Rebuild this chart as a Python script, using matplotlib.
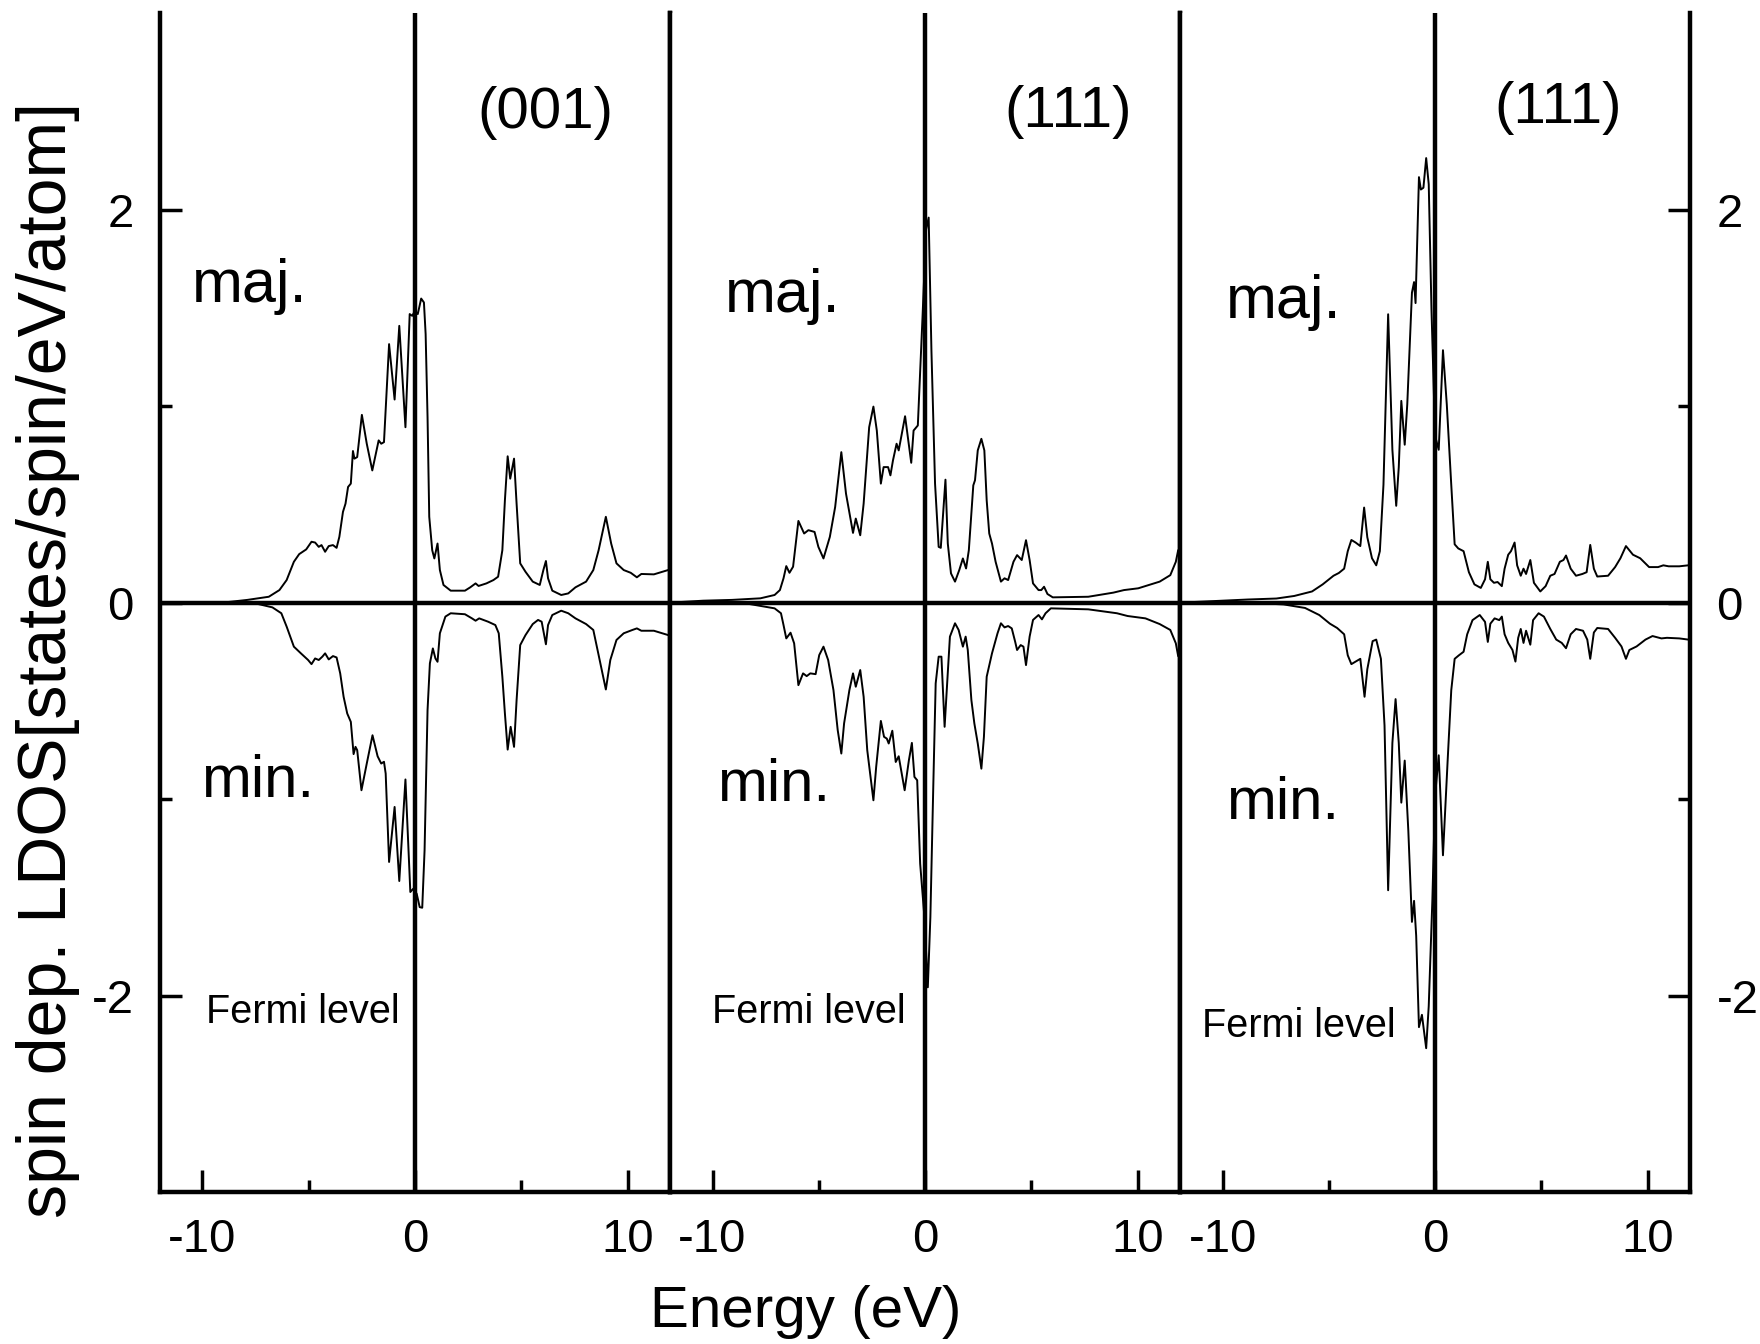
import numpy as np
import matplotlib.pyplot as plt
from matplotlib.ticker import MultipleLocator, FixedLocator

plt.rcParams['font.family'] = ['Liberation Sans', 'DejaVu Sans']
plt.rcParams['axes.unicode_minus'] = False

# (energy [eV], LDOS) pairs
maj_001 = [(-12.0, 0.0), (-9.06, 0.0), (-7.89, 0.014), (-6.88, 0.03), (-6.38, 0.064), (-6.04, 0.115),
           (-5.70, 0.208), (-5.45, 0.247), (-5.12, 0.271), (-4.87, 0.31), (-4.70, 0.306), (-4.53, 0.284),
           (-4.40, 0.293), (-4.23, 0.259), (-4.06, 0.288), (-3.86, 0.293), (-3.69, 0.279), (-3.56, 0.335),
           (-3.39, 0.462), (-3.27, 0.504), (-3.15, 0.589), (-3.02, 0.606), (-2.92, 0.772), (-2.85, 0.733),
           (-2.72, 0.741), (-2.50, 0.956), (-2.27, 0.809), (-2.01, 0.673), (-1.71, 0.826), (-1.59, 0.809),
           (-1.46, 0.817), (-1.22, 1.316), (-0.96, 1.034), (-0.74, 1.409), (-0.45, 0.893), (-0.25, 1.469),
           (-0.13, 1.46), (0.0, 1.486), (0.13, 1.469), (0.29, 1.548), (0.42, 1.528), (0.50, 1.367),
           (0.59, 0.944), (0.67, 0.437), (0.81, 0.267), (0.91, 0.225), (1.06, 0.301), (1.17, 0.166),
           (1.34, 0.09), (1.68, 0.061), (2.35, 0.061), (2.60, 0.078), (2.85, 0.098), (2.99, 0.085),
           (3.36, 0.098), (3.69, 0.115), (3.91, 0.132), (4.11, 0.267), (4.23, 0.521), (4.36, 0.745),
           (4.48, 0.631), (4.66, 0.733), (4.78, 0.504), (4.95, 0.2), (5.20, 0.157), (5.54, 0.107),
           (5.87, 0.09), (6.04, 0.166), (6.16, 0.212), (6.26, 0.124), (6.46, 0.061), (6.88, 0.039),
           (7.21, 0.047), (7.55, 0.078), (8.05, 0.107), (8.39, 0.166), (8.64, 0.267), (8.98, 0.437),
           (9.23, 0.301), (9.48, 0.2), (9.82, 0.166), (10.15, 0.152), (10.44, 0.129), (10.65, 0.146),
           (11.24, 0.144), (11.91, 0.166), (12.0, 0.168)]

min_001 = [(-12.0, 0.0), (-9.06, 0.0), (-7.38, -0.007), (-6.71, -0.024), (-6.29, -0.054), (-6.04, -0.122),
           (-5.70, -0.224), (-5.37, -0.258), (-5.03, -0.292), (-4.87, -0.313), (-4.70, -0.284), (-4.53, -0.292),
           (-4.36, -0.275), (-4.23, -0.258), (-4.06, -0.289), (-3.86, -0.272), (-3.69, -0.279), (-3.52, -0.36),
           (-3.36, -0.479), (-3.19, -0.564), (-3.02, -0.607), (-2.89, -0.771), (-2.80, -0.734), (-2.72, -0.751),
           (-2.52, -0.955), (-2.27, -0.819), (-2.00, -0.675), (-1.76, -0.782), (-1.59, -0.819), (-1.46, -0.81),
           (-1.38, -0.87), (-1.22, -1.32), (-0.96, -1.04), (-0.74, -1.417), (-0.45, -0.9), (-0.22, -1.473),
           (-0.08, -1.456), (0.08, -1.482), (0.22, -1.55), (0.34, -1.553), (0.45, -1.261), (0.59, -0.547),
           (0.70, -0.309), (0.84, -0.233), (0.96, -0.284), (1.06, -0.301), (1.17, -0.156), (1.43, -0.071),
           (1.68, -0.054), (2.35, -0.059), (2.68, -0.08), (2.85, -0.092), (3.02, -0.08), (3.44, -0.097),
           (3.78, -0.114), (3.94, -0.156), (4.11, -0.377), (4.23, -0.564), (4.36, -0.748), (4.50, -0.632),
           (4.66, -0.734), (4.78, -0.496), (4.95, -0.216), (5.20, -0.165), (5.54, -0.109), (5.79, -0.088),
           (5.96, -0.097), (6.16, -0.212), (6.26, -0.114), (6.46, -0.063), (6.88, -0.041), (7.21, -0.054),
           (7.55, -0.08), (8.05, -0.109), (8.39, -0.139), (8.64, -0.267), (8.98, -0.442), (9.19, -0.292),
           (9.48, -0.19), (9.82, -0.156), (10.23, -0.139), (10.44, -0.131), (10.65, -0.143), (11.24, -0.143),
           (11.91, -0.165), (12.0, -0.167)]

maj_111a = [(-12.0, 0.0), (-10.44, 0.01), (-9.09, 0.014), (-7.75, 0.022), (-7.08, 0.039), (-6.83, 0.064),
            (-6.66, 0.124), (-6.53, 0.186), (-6.38, 0.152), (-6.21, 0.183), (-5.96, 0.416), (-5.69, 0.352),
            (-5.49, 0.369), (-5.20, 0.36), (-5.02, 0.284), (-4.78, 0.225), (-4.48, 0.335), (-4.23, 0.487),
            (-3.94, 0.766), (-3.72, 0.555), (-3.39, 0.355), (-3.26, 0.428), (-3.05, 0.343), (-2.89, 0.504),
            (-2.63, 0.893), (-2.43, 0.998), (-2.27, 0.876), (-2.08, 0.606), (-1.95, 0.69), (-1.74, 0.69),
            (-1.63, 0.648), (-1.51, 0.724), (-1.34, 0.809), (-1.24, 0.775), (-0.94, 0.949), (-0.65, 0.712),
            (-0.54, 0.876), (-0.34, 0.902), (-0.12, 1.452), (0.05, 1.90), (0.17, 1.96), (0.30, 1.283),
            (0.47, 0.606), (0.64, 0.284), (0.74, 0.279), (0.84, 0.437), (0.96, 0.626), (1.07, 0.301),
            (1.22, 0.149), (1.41, 0.107), (1.61, 0.166), (1.78, 0.225), (1.93, 0.174), (2.06, 0.267),
            (2.27, 0.597), (2.35, 0.623), (2.48, 0.775), (2.65, 0.834), (2.79, 0.775), (2.90, 0.521),
            (3.02, 0.352), (3.15, 0.301), (3.32, 0.208), (3.57, 0.107), (3.74, 0.124), (3.91, 0.115),
            (4.16, 0.208), (4.33, 0.242), (4.55, 0.217), (4.75, 0.318), (4.92, 0.217), (5.08, 0.098),
            (5.34, 0.064), (5.47, 0.064), (5.60, 0.081), (5.76, 0.044), (6.01, 0.027), (7.68, 0.03),
            (8.86, 0.051), (9.36, 0.064), (10.03, 0.073), (11.04, 0.107), (11.54, 0.14), (11.80, 0.208),
            (11.91, 0.267), (12.0, 0.27)]

min_111a = [(-12.0, 0.0), (-10.44, 0.0), (-8.26, -0.007), (-7.08, -0.029), (-6.78, -0.054), (-6.66, -0.114),
            (-6.53, -0.182), (-6.33, -0.153), (-6.16, -0.207), (-5.96, -0.42), (-5.74, -0.36), (-5.57, -0.374),
            (-5.40, -0.36), (-5.15, -0.364), (-4.98, -0.267), (-4.78, -0.224), (-4.56, -0.292), (-4.31, -0.445),
            (-4.11, -0.649), (-3.94, -0.768), (-3.81, -0.615), (-3.56, -0.445), (-3.39, -0.36), (-3.26, -0.428),
            (-3.05, -0.343), (-2.89, -0.479), (-2.72, -0.751), (-2.43, -1.006), (-2.30, -0.836), (-2.08, -0.602),
            (-1.93, -0.683), (-1.80, -0.692), (-1.71, -0.717), (-1.54, -0.652), (-1.38, -0.811), (-1.24, -0.782),
            (-0.96, -0.955), (-0.76, -0.802), (-0.62, -0.714), (-0.50, -0.887), (-0.37, -0.904), (-0.23, -1.329),
            (-0.03, -1.601), (0.13, -1.958), (0.25, -1.601), (0.39, -0.921), (0.50, -0.411), (0.64, -0.275),
            (0.77, -0.275), (0.92, -0.632), (1.04, -0.411), (1.17, -0.173), (1.41, -0.105), (1.58, -0.139),
            (1.78, -0.224), (1.91, -0.173), (2.01, -0.241), (2.18, -0.496), (2.32, -0.615), (2.48, -0.717),
            (2.65, -0.845), (2.77, -0.683), (2.90, -0.377), (3.15, -0.258), (3.41, -0.156), (3.57, -0.105),
            (3.74, -0.126), (3.91, -0.119), (4.08, -0.131), (4.24, -0.199), (4.33, -0.241), (4.50, -0.216),
            (4.63, -0.224), (4.75, -0.318), (4.92, -0.173), (5.08, -0.088), (5.34, -0.063), (5.50, -0.085),
            (5.67, -0.054), (5.92, -0.029), (7.68, -0.034), (9.03, -0.054), (9.53, -0.068), (10.37, -0.08),
            (11.04, -0.109), (11.54, -0.139), (11.80, -0.207), (11.91, -0.272), (12.0, -0.28)]

maj_111b = [(-12.0, 0.0), (-8.81, 0.016), (-7.47, 0.021), (-6.63, 0.034), (-5.79, 0.057), (-5.29, 0.093),
            (-4.78, 0.137), (-4.53, 0.151), (-4.28, 0.173), (-4.11, 0.262), (-3.94, 0.319), (-3.74, 0.306),
            (-3.52, 0.288), (-3.34, 0.484), (-3.19, 0.333), (-2.97, 0.226), (-2.77, 0.19), (-2.60, 0.262),
            (-2.43, 0.6), (-2.21, 1.468), (-2.01, 0.778), (-1.83, 0.493), (-1.71, 0.689), (-1.59, 1.027),
            (-1.43, 0.804), (-1.31, 1.009), (-1.09, 1.578), (-0.99, 1.632), (-0.92, 1.525), (-0.84, 1.845),
            (-0.76, 2.166), (-0.67, 2.103), (-0.55, 2.112), (-0.42, 2.263), (-0.30, 2.13), (-0.17, 1.489),
            (0.0, 0.849), (0.17, 0.778), (0.37, 1.285), (0.55, 1.009), (0.76, 0.6), (0.92, 0.297),
            (1.09, 0.276), (1.34, 0.262), (1.59, 0.155), (1.85, 0.093), (2.15, 0.075), (2.35, 0.119),
            (2.48, 0.208), (2.60, 0.119), (2.77, 0.101), (2.94, 0.105), (3.14, 0.084), (3.27, 0.173),
            (3.44, 0.244), (3.57, 0.262), (3.74, 0.306), (3.86, 0.19), (4.03, 0.137), (4.16, 0.173),
            (4.28, 0.146), (4.48, 0.217), (4.65, 0.101), (4.95, 0.057), (5.20, 0.084), (5.42, 0.137),
            (5.62, 0.146), (5.87, 0.208), (6.04, 0.217), (6.16, 0.24), (6.38, 0.173), (6.63, 0.137),
            (6.93, 0.146), (7.13, 0.155), (7.30, 0.294), (7.47, 0.173), (7.63, 0.133), (8.14, 0.137),
            (8.47, 0.181), (8.72, 0.226), (8.98, 0.288), (9.31, 0.244), (9.65, 0.226), (10.07, 0.181),
            (10.49, 0.181), (10.74, 0.19), (10.99, 0.185), (11.49, 0.185), (11.91, 0.19), (12.0, 0.19)]

min_111b = [(-12.0, 0.0), (-8.81, 0.0), (-7.13, -0.009), (-6.12, -0.027), (-5.45, -0.063), (-4.95, -0.107),
            (-4.61, -0.129), (-4.28, -0.161), (-4.11, -0.268), (-3.94, -0.313), (-3.74, -0.3), (-3.52, -0.286),
            (-3.32, -0.479), (-3.19, -0.339), (-2.94, -0.196), (-2.77, -0.188), (-2.55, -0.286), (-2.38, -0.625),
            (-2.21, -1.464), (-2.01, -0.714), (-1.86, -0.491), (-1.71, -0.714), (-1.59, -1.018), (-1.43, -0.804),
            (-1.26, -1.161), (-1.09, -1.625), (-0.99, -1.518), (-0.89, -1.696), (-0.76, -2.161), (-0.62, -2.098),
            (-0.42, -2.268), (-0.30, -2.054), (-0.13, -1.518), (0.0, -0.982), (0.17, -0.777), (0.37, -1.286),
            (0.59, -0.804), (0.76, -0.446), (0.92, -0.286), (1.12, -0.268), (1.34, -0.25), (1.51, -0.161),
            (1.76, -0.089), (2.10, -0.063), (2.35, -0.098), (2.48, -0.2), (2.60, -0.107), (2.80, -0.08),
            (3.02, -0.089), (3.14, -0.071), (3.27, -0.161), (3.44, -0.205), (3.64, -0.241), (3.78, -0.3),
            (3.91, -0.179), (4.03, -0.134), (4.16, -0.205), (4.28, -0.143), (4.48, -0.214), (4.61, -0.089),
            (4.87, -0.054), (5.12, -0.071), (5.42, -0.134), (5.70, -0.188), (5.96, -0.205), (6.16, -0.232),
            (6.38, -0.161), (6.63, -0.134), (6.96, -0.143), (7.16, -0.188), (7.30, -0.286), (7.47, -0.152),
            (7.63, -0.129), (8.14, -0.134), (8.47, -0.179), (8.77, -0.223), (8.98, -0.286), (9.14, -0.241),
            (9.48, -0.223), (9.90, -0.188), (10.23, -0.17), (10.65, -0.182), (10.91, -0.179), (11.49, -0.182),
            (11.91, -0.188), (12.0, -0.19)]

curves = [(maj_001, min_001), (maj_111a, min_111a), (maj_111b, min_111b)]
facets = ['(001)', '(111)', '(111)']

# label anchors in data coords for each panel
facet_xy = [(6.14, 2.49), (6.74, 2.50), (5.8, 2.52)]
maj_xy = [(-10.5, 1.53), (-9.41, 1.48), (-9.84, 1.45)]
min_xy = [(-10.08, -0.99), (-9.79, -1.01), (-9.84, -1.10)]
fermi_xy = [(-9.84, -2.14), (-10.02, -2.14), (-10.96, -2.21)]

fig = plt.figure(figsize=(17.6, 13.44), dpi=100)
lefts = [0.0909, 0.3807, 0.6705]
w = 0.2898
bottom = 0.1131
h = 0.877
spine_lw = 3.2

for i in range(3):
    ax = fig.add_axes([lefts[i], bottom, w, h])
    for data in curves[i]:
        e, d = zip(*data)
        ax.plot(e, d, color='k', lw=1.4)
    ax.axhline(0, color='k', lw=spine_lw)
    ax.axvline(0, color='k', lw=spine_lw)
    ax.set_xlim(-12, 12)
    ax.set_ylim(-3, 3)

    ax.spines['top'].set_visible(False)
    for s in ['left', 'right', 'bottom']:
        ax.spines[s].set_linewidth(spine_lw)

    ax.xaxis.set_major_locator(MultipleLocator(10))
    ax.xaxis.set_minor_locator(MultipleLocator(5))
    ax.yaxis.set_major_locator(FixedLocator([-2, 0, 2]))
    ax.yaxis.set_minor_locator(FixedLocator([-1, 1]))

    ax.tick_params(which='both', direction='in', width=2.5, labelsize=34, pad=19,
                   top=False, left=(i == 0), right=(i == 2),
                   labelleft=(i == 0), labelright=(i == 2))
    ax.tick_params(which='major', length=16)
    ax.tick_params(which='minor', length=8.5)

    ax.text(*facet_xy[i], facets[i], fontsize=42, ha='center', va='center')
    ax.text(*maj_xy[i], 'maj.', fontsize=44, ha='left', va='baseline')
    ax.text(*min_xy[i], 'min.', fontsize=43, ha='left', va='baseline')
    ax.text(*fermi_xy[i], 'Fermi level', fontsize=28.5, ha='left', va='baseline')

fig.text(0.0273, 0.509, 'spin dep. LDOS[states/spin/eV/atom]', rotation=90,
         fontsize=49, ha='center', va='center')
fig.text(0.458, 0.0127, 'Energy (eV)', fontsize=42, ha='center', va='baseline')

plt.savefig('out.png', dpi=100)
